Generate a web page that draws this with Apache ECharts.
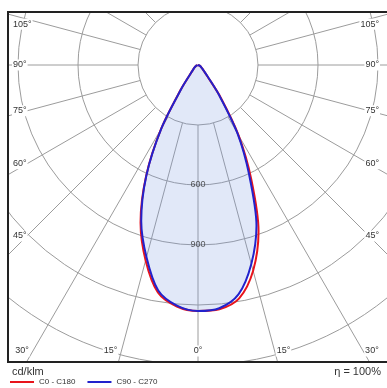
<!DOCTYPE html>
<html><head><meta charset="utf-8">
<script src="https://cdn.jsdelivr.net/npm/echarts@6/dist/echarts.min.js"></script>
<style>html,body{margin:0;padding:0;background:#fff}#c{width:387px;height:388px}</style>
</head><body><div id="c"></div>
<script>
// gamma angles (degrees from nadir)
const gammas = [0,5,10,15,20,25,30,35,40,45,50,55,60,65,70,75,80,85,90];
// C0 - C180 plane (cd/klm)
const c0   = [1230,1226,1185,1065,885,630,405,195,70,40,28,20,15,11,7,4,2,1,0];
const c180 = [1230,1212,1155,1012,840,615,368,150,62,38,28,20,15,11,7,4,2,1,0];
// C90 - C270 plane (cd/klm)
const c90  = [1230,1221,1165,1030,855,605,395,185,75,42,28,20,15,11,7,4,2,1,0];
const c270 = [1230,1208,1145,995,830,612,365,145,62,38,28,20,15,11,7,4,2,1,0];
const angleTickLabels = [105,90,75,60,45,30,15,0];
const radiusLabelValues = [600,900];
const radialAngles = [0,15,30,45,60,75,90,105,120,135,150,165,180,195,210,225,240,255,270,285,300,315,330,345];
const unitText = 'cd/klm';
const etaText = 'η = 100%';
const seriesNames = ['C0 - C180','C90 - C270'];

function curve(right, left){
  const pts = [];
  for (let i = gammas.length-1; i >= 0; i--) pts.push([right[i], 360 - gammas[i]]);
  for (let i = 1; i < gammas.length; i++) pts.push([left[i], gammas[i]]);
  return pts;
}
const redPts = curve(c0, c180);
const bluePts = curve(c90, c270);

const CX = 198, CY = 65, RPX = 360, RMAX = 1800;
const SMOOTH = 0.3;
const FONT = '9px "Liberation Sans", Arial, sans-serif';
const chart = echarts.init(document.getElementById('c'));

// angle labels around frame
const gLabels = [];
const fL = 8, fT = 12, fB = 362;
angleTickLabels.forEach(g => {
  const rad = g*Math.PI/180;
  const yAt = d => CY + d*Math.cos(rad)/Math.sin(rad);
  if (g >= 45) {
    let y = g === 90 ? CY : yAt(171);
    if (g > 90) y += 5;
    gLabels.push({type:'text', z:60, style:{text:g+'°', x:12, y:y, textAlign:'left', textVerticalAlign:'middle', font:FONT, fill:'#333', backgroundColor:'#fff', padding:[1,1]}});
    gLabels.push({type:'text', z:60, style:{text:g+'°', x:380, y:y, textAlign:'right', textVerticalAlign:'middle', font:FONT, fill:'#333', backgroundColor:'#fff', padding:[1,1]}});
  } else {
    const y = 351;
    const dx = (y-CY)*Math.tan(rad);
    if (g === 0) {
      gLabels.push({type:'text', z:60, style:{text:g+'°', x:CX, y:y, textAlign:'center', textVerticalAlign:'middle', font:FONT, fill:'#333', backgroundColor:'#fff', padding:[1,1]}});
    } else {
      gLabels.push({type:'text', z:60, style:{text:g+'°', x:CX-dx-3, y:y, textAlign:'right', textVerticalAlign:'middle', font:FONT, fill:'#333', backgroundColor:'#fff', padding:[1,1]}});
      gLabels.push({type:'text', z:60, style:{text:g+'°', x:CX+dx+1, y:y, textAlign:'left', textVerticalAlign:'middle', font:FONT, fill:'#333', backgroundColor:'#fff', padding:[1,1]}});
    }
  }
});

const option = {
  animation:false,
  backgroundColor:'#fff',
  polar:{center:[CX,CY], radius:RPX},
  angleAxis:{type:'value', min:0, max:360, startAngle:270, clockwise:true,
    axisLine:{show:false}, axisTick:{show:false}, axisLabel:{show:false}, splitLine:{show:false}},
  radiusAxis:{type:'value', min:0, max:RMAX, interval:300,
    axisLine:{show:false}, axisTick:{show:false}, axisLabel:{show:false},
    splitLine:{show:true, lineStyle:{color:'#9c9c9c', width:1}}},
  legend:{data:seriesNames, left:5, top:373, z:100, icon:'rect', itemWidth:24, itemHeight:2, itemGap:12,
    textStyle:{fontSize:8, color:'#333', fontFamily:'"Liberation Sans", Arial, sans-serif'}},
  series:[
    {type:'custom', coordinateSystem:'polar', silent:true, z:1, data:radialAngles.map(a=>[RMAX,a]),
      renderItem:(params, api) => {
        const a = api.value(1);
        const p1 = api.coord([300, a]);
        const p2 = api.coord([RMAX, a]);
        return {type:'line', shape:{x1:p1[0], y1:p1[1], x2:p2[0], y2:p2[1]}, style:{stroke:'#9c9c9c', lineWidth:1}};
      }},
    {type:'custom', coordinateSystem:'polar', silent:true, z:2, data:[[0,0]],
      renderItem:(params, api) => {
        const pts = bluePts.map(p => api.coord(p));
        return {type:'polygon', shape:{points:pts, smooth:SMOOTH}, style:{fill:'rgba(120,150,225,0.22)', stroke:'none'}};
      }},
    {name:seriesNames[0], type:'line', coordinateSystem:'polar', z:3, data:redPts, symbol:'none', smooth:SMOOTH,
      lineStyle:{color:'#e8141c', width:2}, itemStyle:{color:'#e8141c'}},
    {name:seriesNames[1], type:'line', coordinateSystem:'polar', z:4, data:bluePts, symbol:'none', smooth:SMOOTH,
      lineStyle:{color:'#2222cc', width:2}, itemStyle:{color:'#2222cc'}},
    {type:'scatter', coordinateSystem:'polar', z:5, silent:true, data:radiusLabelValues.map(v=>[v,0]),
      symbolSize:1, itemStyle:{color:'transparent'},
      label:{show:true, position:'inside', formatter:p=>String(p.value[0]), fontSize:9, color:'#333',
        fontFamily:'"Liberation Sans", Arial, sans-serif'}}
  ],
  graphic:[
    {type:'rect', z:50, shape:{x:0,y:0,width:387,height:fT}, style:{fill:'#fff'}},
    {type:'rect', z:50, shape:{x:0,y:0,width:fL,height:388}, style:{fill:'#fff'}},
    {type:'rect', z:50, shape:{x:0,y:fB,width:387,height:388-fB}, style:{fill:'#fff'}},
    {type:'rect', z:55, shape:{x:fL,y:fT,width:392,height:fB-fT}, style:{fill:'none', stroke:'#222', lineWidth:2}},
    ...gLabels,
    {type:'text', z:60, style:{text:unitText, x:12, y:372, textAlign:'left', textVerticalAlign:'middle', font:'11px "Liberation Sans", Arial, sans-serif', fill:'#333'}},
    {type:'text', z:60, style:{text:etaText, x:381, y:372, textAlign:'right', textVerticalAlign:'middle', font:'11px "Liberation Sans", Arial, sans-serif', fill:'#333'}}
  ]
};
chart.setOption(option);
</script></body></html>
